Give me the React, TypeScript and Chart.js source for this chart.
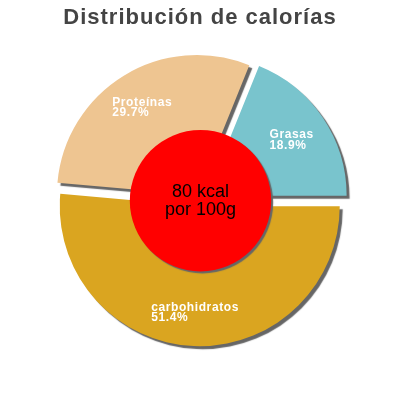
import { useEffect, useRef } from "react";
import { Chart, ArcElement, registerables } from "chart.js";

Chart.register(...registerables);

const labels = ["Grasas", "carbohidratos", "Proteínas"];
const values = [18.9, 51.4, 29.7];
const colors = ["#79c4cd", "#daa520", "#eec591"];
const centerLines = ["80 kcal", "por 100g"];

// how far each slice is pulled out from the centre (px)
const explode = [8, 6, 6];
const FONT = "'Liberation Sans', Arial, sans-serif";

const piePlugin = {
  id: "piePlugin",
  beforeDraw(chart: Chart) {
    (chart.ctx as any).letterSpacing = "1px";
  },
  beforeDatasetsDraw(chart: Chart) {
    const ctx = chart.ctx;
    (ctx as any).letterSpacing = "0px";
    const meta = chart.getDatasetMeta(0);
    meta.data.forEach((el: any, i: number) => {
      if (el._exploded) return;
      el._exploded = true;
      const baseDraw = ArcElement.prototype.draw;
      el.draw = function (c: CanvasRenderingContext2D) {
        const mid = (this.startAngle + this.endAngle) / 2;
        c.save();
        c.translate(Math.cos(mid) * explode[i], Math.sin(mid) * explode[i]);
        baseDraw.call(this, c);
        c.restore();
      };
    });
    ctx.save();
    ctx.shadowColor = "#666666";
    ctx.shadowOffsetX = 3;
    ctx.shadowOffsetY = 3;
    ctx.shadowBlur = 1;
  },
  afterDatasetsDraw(chart: Chart) {
    const ctx = chart.ctx;
    ctx.restore();
    const meta = chart.getDatasetMeta(0);
    const first: any = meta.data[0];
    const cx = first.x;
    const cy = first.y;
    const R = first.outerRadius;

    // red centre disc
    ctx.save();
    ctx.shadowColor = "#666666";
    ctx.shadowOffsetX = 2;
    ctx.shadowOffsetY = 2;
    ctx.shadowBlur = 1;
    ctx.fillStyle = "#ff0000";
    ctx.beginPath();
    ctx.arc(cx + 0.5, cy + 0.5, R * 0.505, 0, Math.PI * 2);
    ctx.fill();
    ctx.restore();

    ctx.save();
    ctx.fillStyle = "#000";
    ctx.font = `18px ${FONT}`;
    ctx.textAlign = "center";
    ctx.textBaseline = "alphabetic";
    ctx.fillText(centerLines[0], cx + 0.5, cy - 3.5);
    ctx.fillText(centerLines[1], cx + 0.5, cy + 15);
    ctx.restore();

    // slice labels
    ctx.save();
    ctx.fillStyle = "#ffffff";
    ctx.font = `bold 12px ${FONT}`;
    (ctx as any).letterSpacing = "0.6px";
    ctx.textAlign = "left";
    ctx.textBaseline = "alphabetic";
    meta.data.forEach((el: any, i: number) => {
      const mid = (el.startAngle + el.endAngle) / 2;
      const r = el.outerRadius * 0.79;
      const ax = el.x + Math.cos(mid) * r;
      const ay = el.y + Math.sin(mid) * r;
      const l1 = labels[i];
      const l2 = values[i].toFixed(1) + "%";
      const w = Math.max(ctx.measureText(l1).width, ctx.measureText(l2).width);
      const x0 = ax - w / 2;
      ctx.fillText(l1, x0, ay);
      ctx.fillText(l2, x0, ay + 10.5);
    });
    ctx.restore();
  },
};

export default function App() {
  const canvasRef = useRef<HTMLCanvasElement>(null);

  useEffect(() => {
    document.body.style.margin = "0";
    if (!canvasRef.current) return;

    const chart = new Chart(canvasRef.current, {
      type: "pie",
      data: {
        labels: labels,
        datasets: [
          {
            data: values,
            backgroundColor: colors,
            borderWidth: 0,
            radius: 140,
          } as any,
        ],
      },
      options: {
        responsive: false,
        animation: false,
        rotation: 22,
        events: [],
        layout: { padding: { top: 0, bottom: 32 } },
        plugins: {
          legend: { display: false },
          tooltip: { enabled: false },
          title: {
            display: true,
            text: "Distribución de calorías",
            color: "#444444",
            font: { family: FONT, size: 22, weight: "bold" },
            padding: { top: 5, bottom: 1 },
          },
        },
      },
      plugins: [piePlugin],
    });

    return () => {
      chart.destroy();
    };
  }, []);

  return (
    <div style={{ width: 400, height: 400 }}>
      <canvas ref={canvasRef} width={400} height={400} />
    </div>
  );
}
